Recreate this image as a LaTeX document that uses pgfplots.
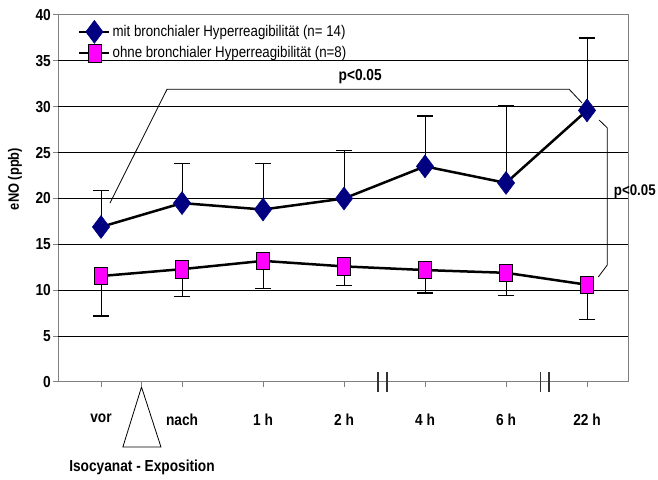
\documentclass[border=0pt]{standalone}
\usepackage{fontspec}
\setmainfont{Liberation Sans}
\newfontfamily\nar[FakeStretch=0.86]{Liberation Sans}
\usepackage{pgfplots}
\pgfplotsset{compat=1.18}
\definecolor{navyd}{RGB}{0,0,128}
\definecolor{mag}{RGB}{255,0,255}
\definecolor{axgray}{RGB}{128,128,128}
\begin{document}
\begin{tikzpicture}
\begin{axis}[
  at={(58bp,98bp)}, anchor=south west,
  width=570bp, height=367bp, scale only axis,
  xmin=-0.531, xmax=6.506, ymin=0, ymax=40,
  clip=false,
  axis line style={axgray, line width=1bp},
  tick align=outside, major tick length=5bp,
  tick style={axgray, line width=1bp},
  xtick pos=lower, ytick pos=left,
  ytick={0,5,...,40},
  extra y ticks={5,10,...,35}, extra y tick labels={},
  extra y tick style={ymajorgrids=true, grid style={black, line width=1.1bp}},
  xtick={0,...,6},
  xticklabels={vor\hspace{12bp}, nach\hspace{19bp}, 1 h, 2 h, 4 h, 6 h, 22 h},
  extra x ticks={0.5}, extra x tick labels={},
  /pgf/number format/assume math mode=true,
  tick label style={font=\nar\bfseries\fontsize{16}{16}\selectfont},
  xticklabel style={yshift=-23bp},
  yticklabel style={inner sep=2bp},
  legend style={at={(axis description cs:0.035,0.986)}, anchor=north west, draw=none, fill=none,
    inner sep=0pt, font=\nar\fontsize{15.5}{15.5}\selectfont, row sep=1bp,
    /tikz/every even column/.append style={column sep=16bp}},
  legend cell align=left,
  legend image code/.code={\draw[mark repeat=2, mark phase=2, #1] plot coordinates {(0bp,0bp) (15bp,0bp) (30bp,0bp)};},
]
% series with bronchial hyperreactivity
\addplot[black, line width=2.5bp, mark=diamond*, mark size=11.5bp,
  mark options={fill=navyd, draw=navyd, line width=0.5bp},
  error bars/.cd, y dir=plus, y explicit,
  error bar style={black, line width=0.9bp},
  error mark options={rotate=90, mark size=8bp, line width=1.3bp, black}]
coordinates {
 (0,16.9) +- (0,3.95)
 (1,19.5) +- (0,4.3)
 (2,18.8) +- (0,5.0)
 (3,20.0) +- (0,5.2)
 (4,23.5) +- (0,5.5)
 (5,21.7) +- (0,8.4)
 (6,29.6) +- (0,7.9)
};
\addlegendentry{mit bronchialer Hyperreagibilität (n= 14)}
% series without
\addplot[black, line width=2.5bp, mark=square*, mark size=6.5bp,
  mark options={fill=mag, draw=black, line width=0.7bp, yscale=1.35},
  error bars/.cd, y dir=minus, y explicit,
  error bar style={black, line width=0.9bp},
  error mark options={rotate=90, mark size=8bp, line width=1.3bp, black}]
coordinates {
 (0,11.55) +- (0,4.35)
 (1,12.3) +- (0,3.0)
 (2,13.2) +- (0,3.0)
 (3,12.6) +- (0,2.1)
 (4,12.2) +- (0,2.5)
 (5,11.9) +- (0,2.5)
 (6,10.6) +- (0,3.8)
};
\addlegendentry{ohne bronchialer Hyperreagibilität (n=8)}
% significance brackets
\addplot[black, line width=0.8bp, forget plot] coordinates {(0.11,19.5) (0.815,31.9) (5.78,31.9) (5.94,30.4)};
\addplot[black, line width=0.8bp, forget plot] coordinates {(6.15,28.55) (6.25,27.7) (6.25,12.75) (6.14,11.45)};
% exposure triangle
\addplot[black, line width=0.8bp, forget plot] coordinates {(0.5,-0.55) (0.27,-7.08) (0.74,-7.08) (0.5,-0.55)};
% axis breaks
\addplot[black!80, line width=1.3bp, forget plot] coordinates {(3.42,-1.09) (3.42,1.09)};
\addplot[black!80, line width=1.3bp, forget plot] coordinates {(3.53,-1.09) (3.53,1.09)};
\addplot[black!80, line width=1.3bp, forget plot] coordinates {(5.43,-1.09) (5.43,1.09)};
\addplot[black!80, line width=1.3bp, forget plot] coordinates {(5.53,-1.09) (5.53,1.09)};
\node[font=\nar\bfseries\fontsize{16}{16}\selectfont] at (axis cs:3.2,33.24) {p<0.05};
\node[font=\nar\bfseries\fontsize{15.5}{15.5}\selectfont, anchor=west, inner sep=0pt] at (axis cs:6.33,20.7) {p<0.05};
\node[font=\nar\bfseries\fontsize{16}{16}\selectfont] at (axis cs:0.506,-9.26) {Isocyanat - Exposition};
\node[font=\nar\bfseries\fontsize{15}{15}\selectfont, rotate=90] at (axis description cs:-0.0754,0.553) {eNO (ppb)};
\end{axis}
\pgfresetboundingbox
\path[use as bounding box] (0,0) rectangle (658bp,480bp);
\end{tikzpicture}
\end{document}
